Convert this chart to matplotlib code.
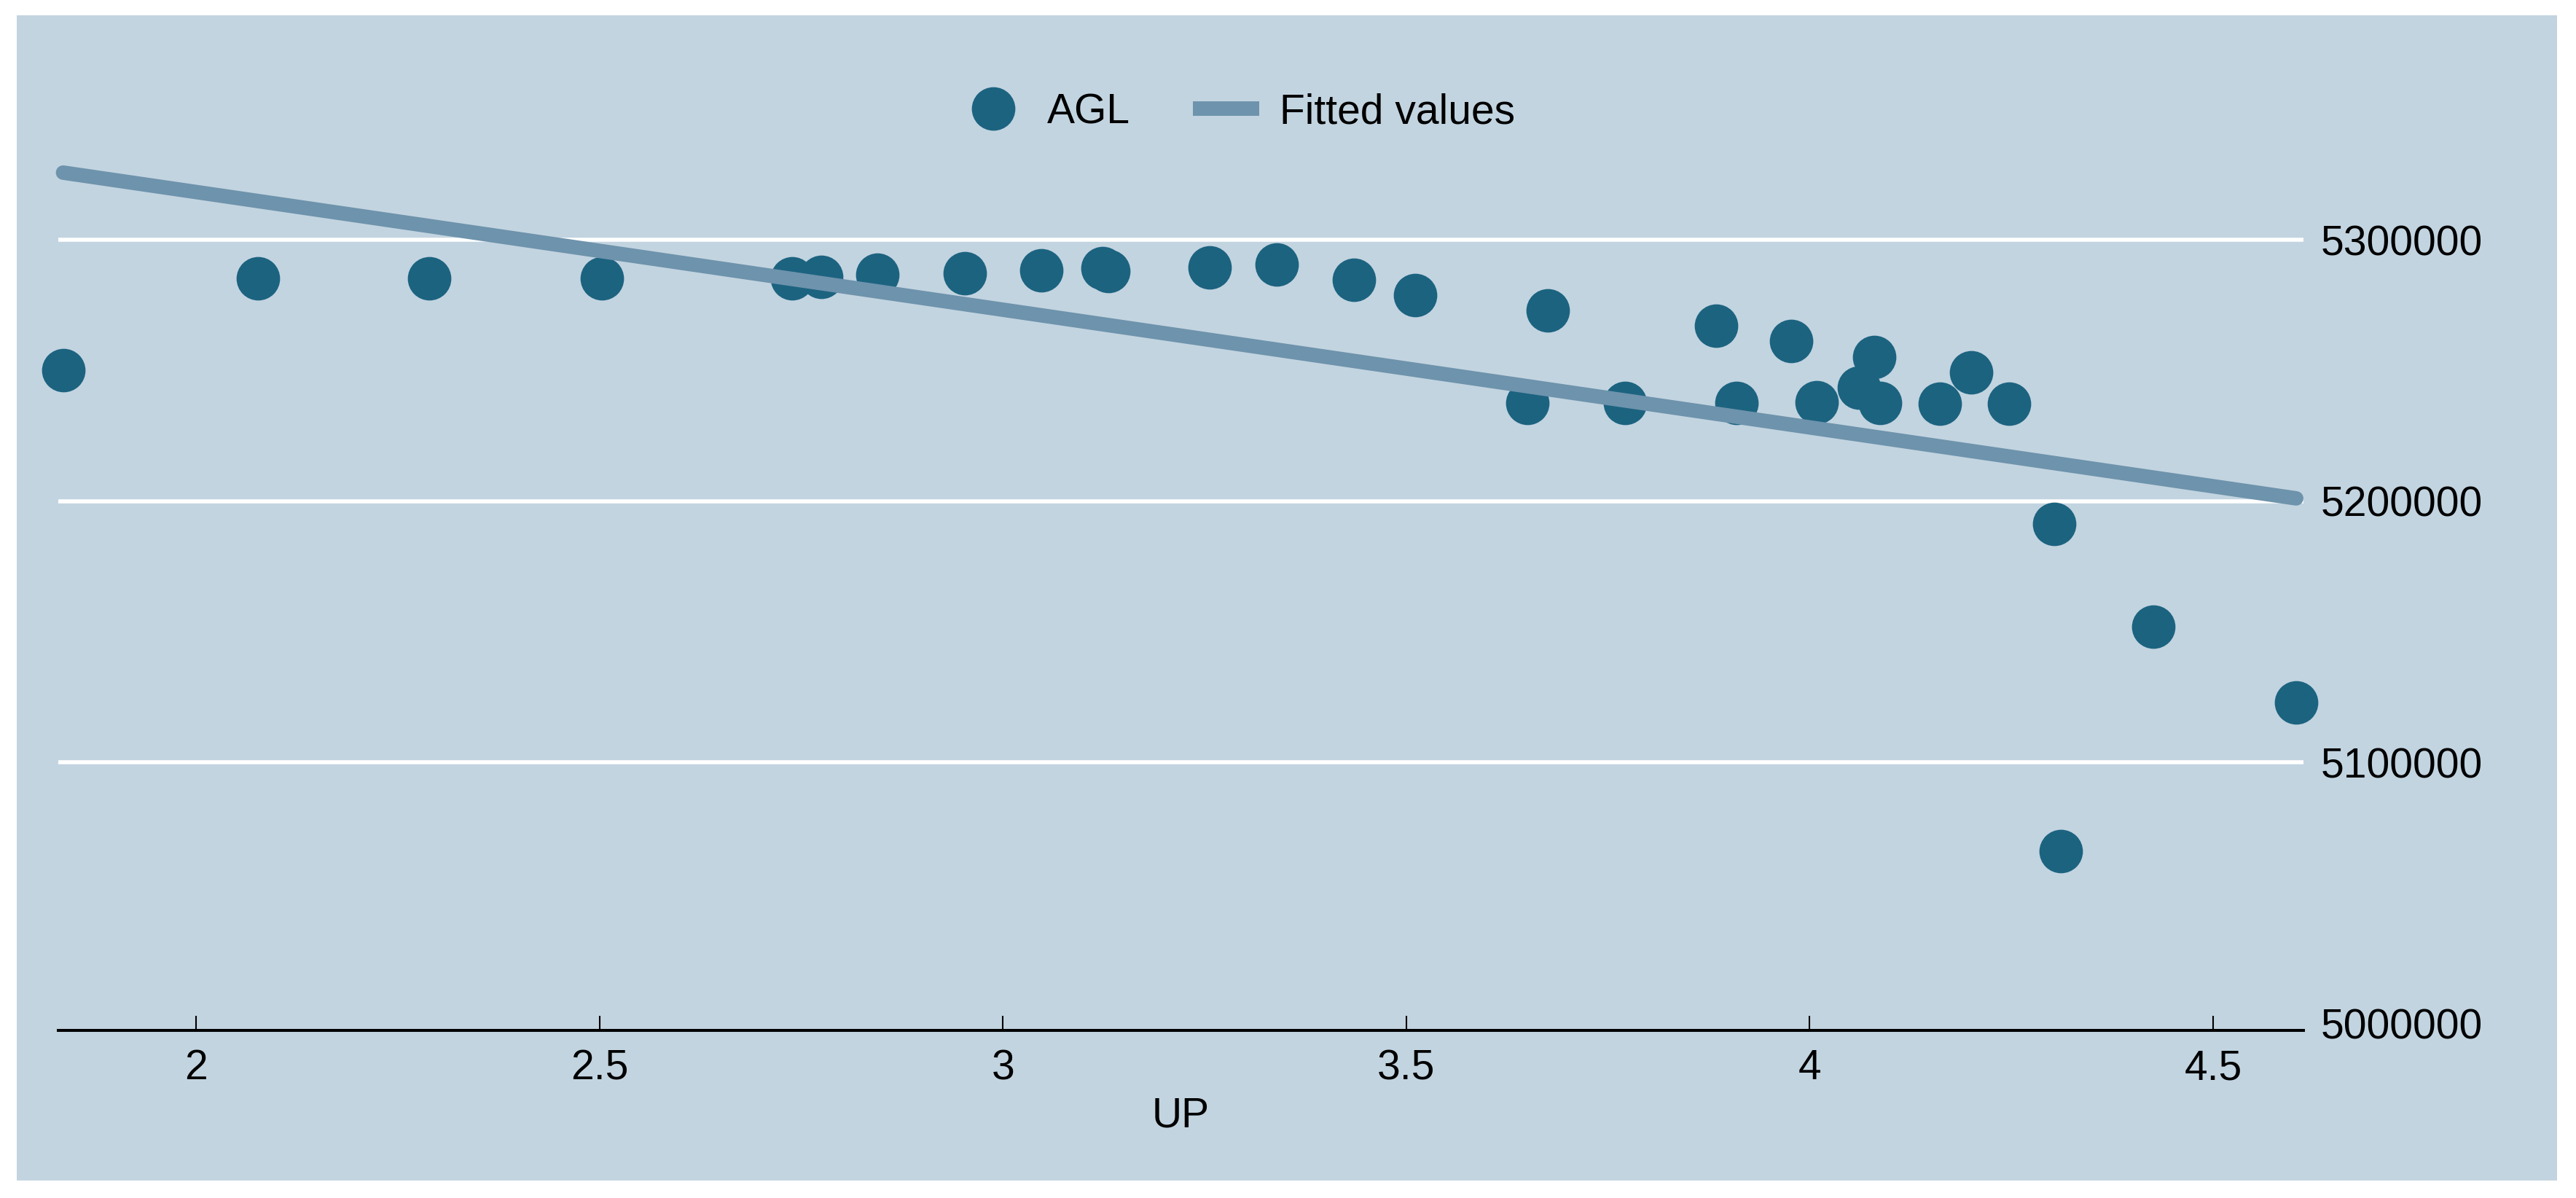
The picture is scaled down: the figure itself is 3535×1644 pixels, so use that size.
import matplotlib
matplotlib.use("Agg")
import matplotlib.pyplot as plt
from matplotlib.patches import Rectangle
from matplotlib.lines import Line2D

# values
up = [1.835, 2.077, 2.289, 2.503, 2.739, 2.775, 2.844, 2.953, 3.048, 3.123,
      3.131, 3.256, 3.339, 3.435, 3.511, 3.650, 3.675, 3.771, 3.884, 3.909,
      3.977, 4.009, 4.061, 4.080, 4.087, 4.161, 4.200, 4.247, 4.303, 4.311,
      4.426, 4.603]
agl = [5250000, 5285350, 5285350, 5285200, 5285350, 5285650, 5286600, 5287170,
       5288280, 5289000, 5288100, 5289300, 5290570, 5284700, 5278720, 5237400,
       5272860, 5237400, 5267100, 5237630, 5261130, 5237800, 5243370, 5255160,
       5237630, 5237350, 5249300, 5237350, 5191100, 5065880, 5152020, 5122790]

fit_x = [1.835, 4.603]
fit_y = [5325700, 5201000]

x_ticks = [2, 2.5, 3, 3.5, 4, 4.5]
x_tick_labels = ["2", "2.5", "3", "3.5", "4", "4.5"]
y_ticks = [5000000, 5100000, 5200000, 5300000]
y_tick_labels = ["5000000", "5100000", "5200000", "5300000"]

bg = "#C2D4E0"
marker_color = "#1C6380"
line_color = "#6E93AC"

plt.rcParams["font.family"] = ["Liberation Sans", "DejaVu Sans"]

fig = plt.figure(figsize=(35.35, 16.44), dpi=100, facecolor="white")
fig.patches.append(Rectangle((0.0065, 0.0146), 0.9861, 0.9726,
                             transform=fig.transFigure, facecolor=bg,
                             edgecolor="none", zorder=-1))

ax = fig.add_axes([0.0226, 0.1399, 0.8716, 0.8236])
ax.set_zorder(1)
ax.patch.set_alpha(0)

ax.plot(up, agl, linestyle="none", marker="o", markersize=43,
        color=marker_color, markeredgewidth=0, zorder=3, clip_on=False)
ax.plot(fit_x, fit_y, color=line_color, linewidth=14.3,
        solid_capstyle="round", zorder=4, clip_on=False)

ax.set_xlim(1.829, 4.612)
ax.set_ylim(4997350, 5375035)

ax.set_xticks(x_ticks)
ax.set_xticklabels(x_tick_labels)
ax.set_yticks(y_ticks)
ax.set_yticklabels(y_tick_labels)
ax.yaxis.tick_right()

ax.tick_params(axis="x", direction="in", length=14.4, width=1.5,
               labelsize=41, pad=18, color="black")
ax.tick_params(axis="y", length=0, labelsize=41, pad=17, right=False)

for side in ["top", "left", "right"]:
    ax.spines[side].set_visible(False)
ax.spines["bottom"].set_linewidth(2.9)

ax.grid(axis="y", color="white", linewidth=4)
ax.get_ygridlines()[0].set_visible(False)
ax.set_axisbelow(True)

ax.set_xlabel("UP", fontsize=41, labelpad=8)

handles = [
    Line2D([], [], linestyle="none", marker="o", markersize=43,
           color=marker_color, markeredgewidth=0),
    Line2D([], [], color=line_color, linewidth=14.3, solid_capstyle="butt"),
]
fig.legend(handles, ["AGL", "Fitted values"], loc="center",
           bbox_to_anchor=(0.4805, 0.9063), ncol=2, frameon=False,
           fontsize=41, handlelength=1.6, handletextpad=0.5,
           columnspacing=1.5)

fig.savefig("out.png", dpi=100, facecolor="white")
